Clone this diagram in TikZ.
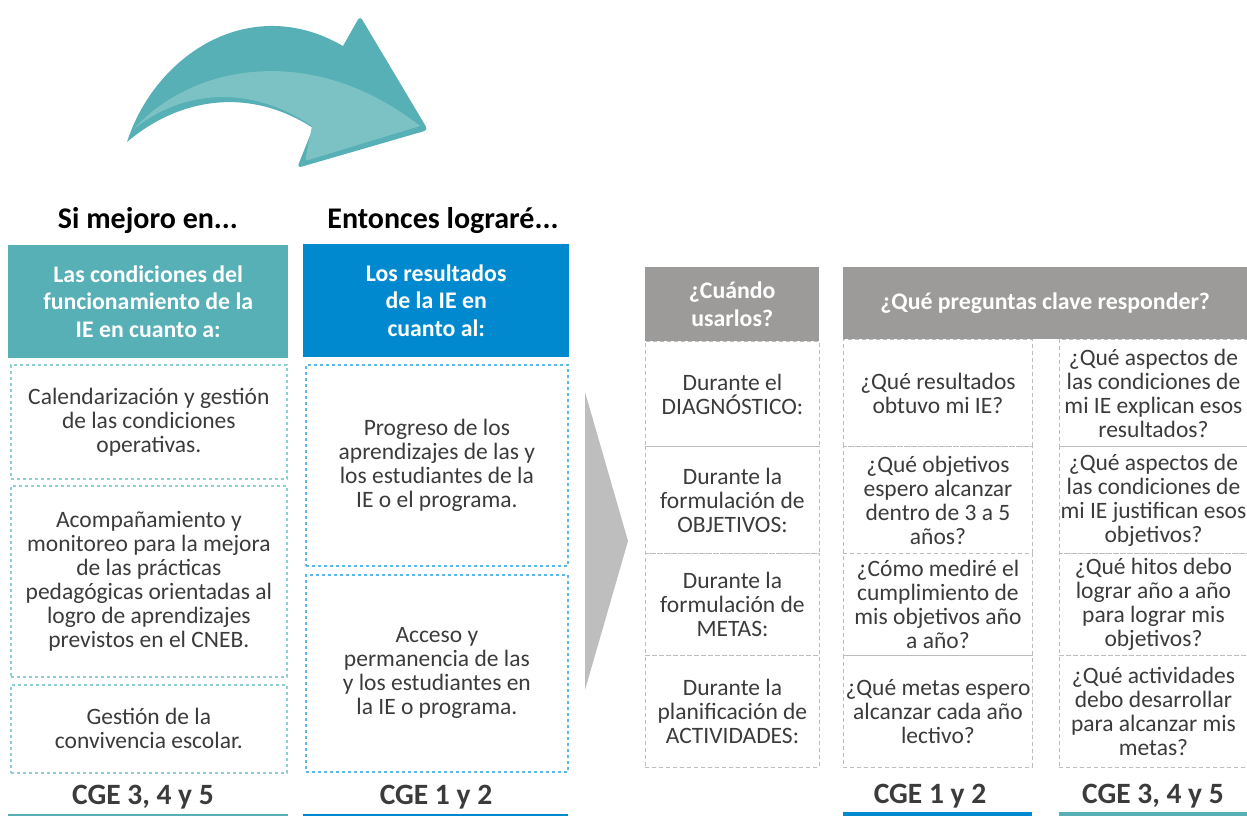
\documentclass[tikz,border=0pt]{standalone}
\usepackage{fontspec}
\setmainfont{Carlito}
\usepackage{tikz}

\definecolor{teal1}{HTML}{56B0B5}
\definecolor{teal2}{HTML}{7CC2C5}
\definecolor{azul}{HTML}{0089CF}
\definecolor{gris}{HTML}{9C9B9A}
\definecolor{gris2}{HTML}{BEBEBE}
\definecolor{texto}{HTML}{3B3B3B}
\definecolor{dash1}{HTML}{8DD0D3}
\definecolor{dash2}{HTML}{5DB8E6}
\definecolor{dash3}{HTML}{BDBDBD}

\begin{document}
\begin{tikzpicture}[x=1pt,y=-1pt]
	\tikzstyle{tit}=[inner sep=0pt,font=\bfseries\fontsize{30}{31}\selectfont];
	\tikzstyle{cab}=[anchor=north west,inner sep=0pt,align=center,text=white,font=\bfseries\fontsize{23.8}{27.5}\selectfont];
	\tikzstyle{caja}=[anchor=north west,inner sep=0pt,align=center,text=texto,font=\fontsize{23.5}{24}\selectfont];
	\tikzstyle{caja1}=[caja,draw=dash1,line width=1.7pt,dash pattern=on 3pt off 3pt];
	\tikzstyle{caja2}=[caja,draw=dash2,line width=1.7pt,dash pattern=on 3pt off 3pt];
	\tikzstyle{celda}=[caja,draw=dash3,line width=0.9pt,dash pattern=on 4pt off 3pt];
	\tikzstyle{cge}=[inner sep=0pt,text=texto,font=\bfseries\fontsize{29.5}{30}\selectfont];

	\useasboundingbox (0,0) rectangle (1247,816);

	% flecha curva
	\fill[teal1] (127,142) .. controls (155,55) and (250,-8) .. (343,46)
		[rounded corners=4pt] -- (360,16) -- (428,130) -- (297,168) [sharp corners] -- (313,128)
		.. controls (250,87) and (180,97) .. cycle;
	\fill[teal2] (134,129) .. controls (190,66) and (310,40) .. (420,126)
		[rounded corners=3pt] -- (305,161) [sharp corners] -- (312,126)
		.. controls (250,84) and (182,90) .. cycle;

	% columna izquierda
	\node[tit] (si) at (148,221) {Si mejoro en...};
	\node[cab,fill=teal1,minimum width=280,minimum height=113] (condic) at (8,245) {Las condiciones del\\funcionamiento de la\\IE en cuanto a:};
	\node[caja1,minimum width=276,minimum height=114] (calend) at (10,364) {Calendarización y gestión\\de las condiciones\\operativas.};
	\node[caja1,minimum width=276,minimum height=191] (acomp) at (10,485) {Acompañamiento y\\monitoreo para la mejora\\de las prácticas\\pedagógicas orientadas al\\logro de aprendizajes\\previstos en el CNEB.};
	\node[caja1,minimum width=276,minimum height=88] (conviv) at (10,684) {Gestión de la\\convivencia escolar.};
	\node[cge] (cge1) at (143,797) {CGE 3, 4 y 5};
	\fill[teal1] (8,813.5) rectangle (288,816);

	% columna central
	\node[tit] (entonces) at (443,221) {Entonces lograré...};
	\node[cab,fill=azul,minimum width=266,minimum height=113] (result) at (303,244) {Los resultados\\de la IE en\\cuanto al:};
	\node[caja2,minimum width=262,minimum height=201] (progreso) at (305,364) {Progreso de los\\aprendizajes de las y\\los estudiantes de la\\IE o el programa.};
	\node[caja2,minimum width=262,minimum height=197] (acceso) at (305,574) {Acceso y\\permanencia de las\\y los estudiantes en\\la IE o programa.};
	\node[cge] (cge2) at (436,797) {CGE 1 y 2};
	\fill[azul] (303,813.5) rectangle (568,816);

	\fill[gris2] (585,392) -- (628,541) -- (585,690) -- cycle;

	% tabla derecha
	\node[cab,fill=gris,minimum width=174,minimum height=74] (cuando) at (645,267) {¿Cuándo\\usarlos?};
	\node[cab,fill=gris,minimum width=404,minimum height=72] (preguntas) at (843,267) {¿Qué preguntas clave responder?};

	\node[celda,minimum width=174,minimum height=105] (diag) at (645,341) {Durante el\\DIAGNÓSTICO:};
	\node[celda,minimum width=174,minimum height=107] (obj) at (645,446) {Durante la\\formulación de\\OBJETIVOS:};
	\node[celda,minimum width=174,minimum height=102] (metas) at (645,553) {Durante la\\formulación de\\METAS:};
	\node[celda,minimum width=174,minimum height=112] (activ) at (645,655) {Durante la\\planificación de\\ACTIVIDADES:};

	\node[celda,minimum width=189,minimum height=107] (p1) at (843,339) {¿Qué resultados\\obtuvo mi IE?};
	\node[celda,minimum width=189,minimum height=107] (p2) at (843,446) {¿Qué objetivos\\espero alcanzar\\dentro de 3 a 5\\años?};
	\node[celda,minimum width=189,minimum height=102] (p3) at (843,553) {¿Cómo mediré el\\cumplimiento de\\mis objetivos año\\a año?};
	\node[celda,minimum width=189,minimum height=112] (p4) at (843,655) {¿Qué metas espero\\alcanzar cada año\\lectivo?};

	\node[celda,minimum width=188,minimum height=107] (q1) at (1059,339) {¿Qué aspectos de\\las condiciones de\\mi IE explican esos\\resultados?};
	\node[celda,minimum width=188,minimum height=107] (q2) at (1059,446) {¿Qué aspectos de\\las condiciones de\\mi IE justifican esos\\objetivos?};
	\node[celda,minimum width=188,minimum height=102] (q3) at (1059,553) {¿Qué hitos debo\\lograr año a año\\para lograr mis\\objetivos?};
	\node[celda,minimum width=188,minimum height=112] (q4) at (1059,655) {¿Qué actividades\\debo desarrollar\\para alcanzar mis\\metas?};

	\node[cge] (cge3) at (930,796) {CGE 1 y 2};
	\fill[azul] (843,812) rectangle (1032,816);
	\node[cge] (cge4) at (1153,796) {CGE 3, 4 y 5};
	\fill[teal1] (1059,812) rectangle (1247,816);
\end{tikzpicture}
\end{document}
